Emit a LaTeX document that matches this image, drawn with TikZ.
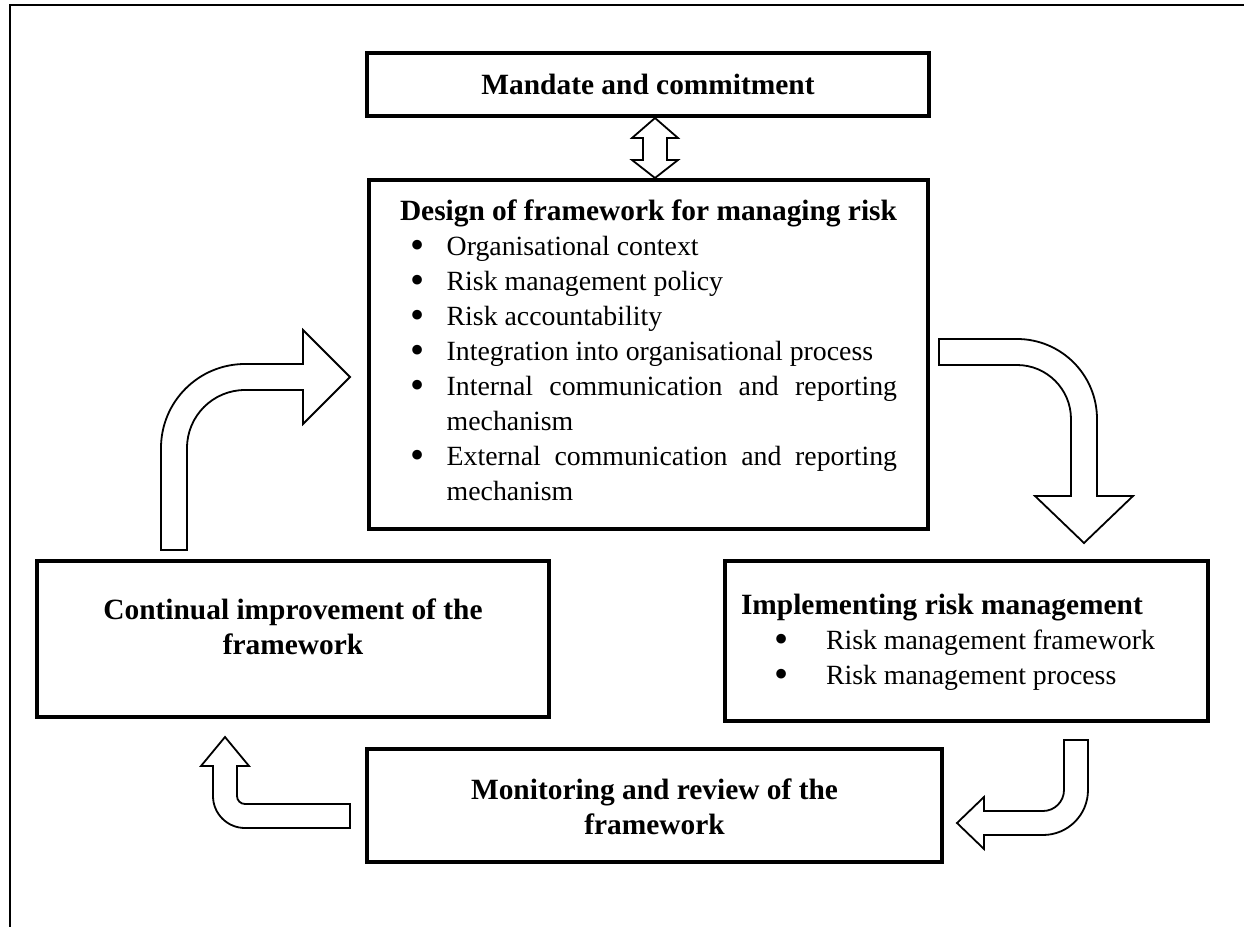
\documentclass[tikz,border=0pt]{standalone}
\usepackage{fontspec}
\setmainfont{Liberation Serif}
\newcommand\hdfont{\fontsize{29.4bp}{35bp}\selectfont\bfseries}
\newcommand\bdfont{\fontsize{27.8bp}{35bp}\selectfont}
\newcommand\bigbullet{\raisebox{-3bp}[0pt][0pt]{\scalebox{1.45}{\textbullet}}}
% bullet item: #1 indent of the bullet, #2 room from bullet to text, #3 text
\newcommand\itm[3]{\par\hangindent=\dimexpr#1+#2\relax\hangafter=1
  \noindent\hspace*{#1}\makebox[#2][l]{\bigbullet}#3\par}
\begin{document}
\begin{tikzpicture}[x=1bp, y=-1bp,
  box/.style={draw, line width=4bp, inner sep=0pt, outer sep=0pt},
  blockarrow/.style={draw, line width=1.8bp, fill=white, line join=miter},
  frameline/.style={line width=2bp},
  txt/.style={inner sep=0pt, outer sep=0pt}]
\useasboundingbox (0,0) rectangle (1244,927);

% page frame
\draw[frameline] (10,927) -- (10,5) -- (1244,5);

% boxes
\node[box, minimum width=562bp, minimum height=63bp]  (mandate)   at (648,84.5)  {};
\node[box, minimum width=559bp, minimum height=349bp] (design)    at (648.5,354.5) {};
\node[box, minimum width=512bp, minimum height=156bp] (improve)   at (293,639)   {};
\node[box, minimum width=483bp, minimum height=160bp] (implement) at (966.5,641) {};
\node[box, minimum width=575bp, minimum height=113bp] (monitor)   at (654.5,805.5) {};

% box texts
\node[txt, anchor=base, font=\hdfont] (mandateText) at (648,94) {Mandate and commitment};

\node[txt, anchor=base west, font=\bdfont] (designText) at (400,220) {\parbox[t]{497bp}{%
  \tolerance=9999 \hyphenpenalty=10000
  {\hdfont Design of framework for managing risk}\par
  \itm{10bp}{36.7bp}{Organisational context}%
  \itm{10bp}{36.7bp}{Risk management policy}%
  \itm{10bp}{36.7bp}{Risk accountability}%
  \itm{10bp}{36.7bp}{Integration into organisational process}%
  \itm{10bp}{36.7bp}{Internal communication and reporting mechanism}%
  \itm{10bp}{36.7bp}{External communication and reporting mechanism}}};

\node[txt, anchor=base west, font=\bdfont] (implementText) at (741,614) {\parbox[t]{460bp}{%
  {\hdfont Implementing risk management}\par
  \itm{33bp}{52bp}{Risk management framework}%
  \itm{33bp}{52bp}{Risk management process}}};

\node[txt, anchor=base, font=\hdfont] (improveText) at (293,619)
  {\parbox[t]{500bp}{\centering Continual improvement of the\\framework}};
\node[txt, anchor=base, font=\hdfont] (monitorText) at (654.5,799)
  {\parbox[t]{560bp}{\centering Monitoring and review of the\\framework}};

% two-way arrow between mandate and design
\draw[blockarrow] (655,118) -- (678,138) -- (667,138) -- (667,160) -- (678,160)
  -- (655,178) -- (632,160) -- (643,160) -- (643,138) -- (632,138) -- cycle;

% bent arrow: improvement -> design
\draw[blockarrow] (161,550) -- (161,448) .. controls (161,401.6) and (198.6,364) .. (245,364)
  -- (303,364) -- (303,330) -- (350,377) -- (303,424) -- (303,390) -- (245,390)
  .. controls (213,390) and (187,416) .. (187,448) -- (187,550) -- cycle;

% bent arrow: design -> implementing
\draw[blockarrow] (939,339) -- (1017,339) .. controls (1061.2,339) and (1097,374.8) .. (1097,419)
  -- (1097,496) -- (1133,496) -- (1084,543) -- (1035,496) -- (1071,496) -- (1071,419)
  .. controls (1071,389.2) and (1046.8,365) .. (1017,365) -- (939,365) -- cycle;

% bent arrow: implementing -> monitoring
\draw[blockarrow] (1064,740) -- (1088,740) -- (1088,790) .. controls (1088,814.9) and (1067.9,835) .. (1043,835)
  -- (984,835) -- (984,849) -- (957,823) -- (984,797) -- (984,811) -- (1043,811)
  .. controls (1054.6,811) and (1064,801.6) .. (1064,790) -- cycle;

% bent arrow: monitoring -> improvement
\draw[blockarrow] (350,804) -- (245,804) .. controls (240.6,804) and (237,800.4) .. (237,796)
  -- (237,766) -- (249,766) -- (225,737) -- (201,766) -- (213,766) -- (213,796)
  .. controls (213,813.7) and (227.3,828) .. (245,828) -- (350,828) -- cycle;
\end{tikzpicture}
\end{document}
